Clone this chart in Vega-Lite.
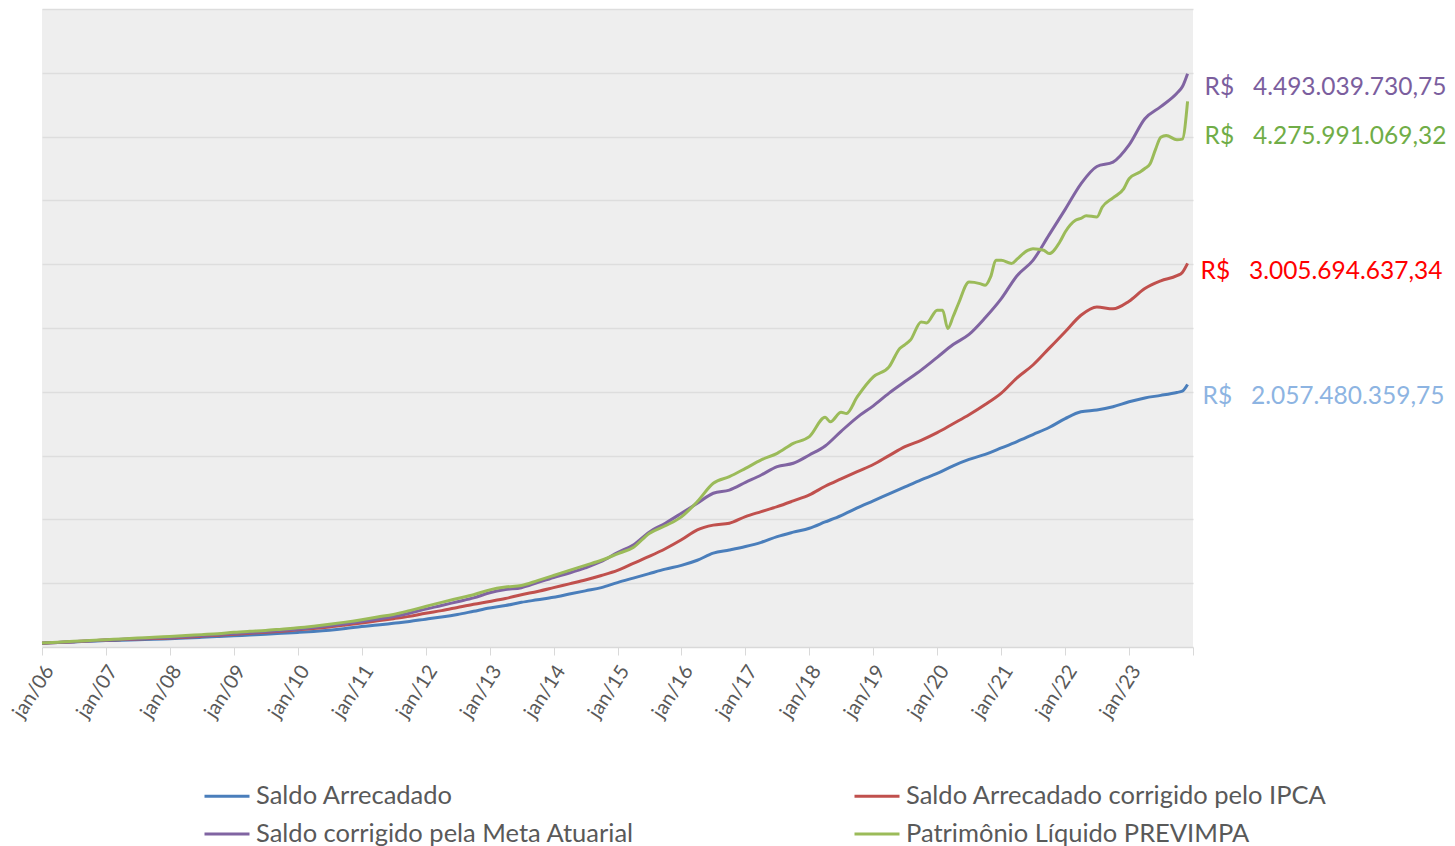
{
  "$schema": "https://vega.github.io/schema/vega-lite/v6.json",
  "width": 1151,
  "height": 638,
  "autosize": {"type": "none"},
  "padding": {"left": 42, "top": 9, "right": 262, "bottom": 199},
  "background": "white",
  "config": {"view": {"fill": "#eeeeee", "stroke": null}, "font": "Lato"},
  "datasets": {
    "series": [
      {"mes": "2006-01", "Saldo Arrecadado": 0.030, "Saldo Arrecadado corrigido pelo IPCA": 0.030, "Saldo corrigido pela Meta Atuarial": 0.030, "Patrimônio Líquido PREVIMPA": 0.032},
      {"mes": "2006-04", "Saldo Arrecadado": 0.035, "Saldo Arrecadado corrigido pelo IPCA": 0.036, "Saldo corrigido pela Meta Atuarial": 0.036, "Patrimônio Líquido PREVIMPA": 0.038},
      {"mes": "2006-07", "Saldo Arrecadado": 0.040, "Saldo Arrecadado corrigido pelo IPCA": 0.042, "Saldo corrigido pela Meta Atuarial": 0.042, "Patrimônio Líquido PREVIMPA": 0.045},
      {"mes": "2006-10", "Saldo Arrecadado": 0.045, "Saldo Arrecadado corrigido pelo IPCA": 0.048, "Saldo corrigido pela Meta Atuarial": 0.048, "Patrimônio Líquido PREVIMPA": 0.050},
      {"mes": "2007-01", "Saldo Arrecadado": 0.050, "Saldo Arrecadado corrigido pelo IPCA": 0.054, "Saldo corrigido pela Meta Atuarial": 0.055, "Patrimônio Líquido PREVIMPA": 0.057},
      {"mes": "2007-04", "Saldo Arrecadado": 0.053, "Saldo Arrecadado corrigido pelo IPCA": 0.058, "Saldo corrigido pela Meta Atuarial": 0.060, "Patrimônio Líquido PREVIMPA": 0.063},
      {"mes": "2007-07", "Saldo Arrecadado": 0.057, "Saldo Arrecadado corrigido pelo IPCA": 0.062, "Saldo corrigido pela Meta Atuarial": 0.065, "Patrimônio Líquido PREVIMPA": 0.070},
      {"mes": "2007-10", "Saldo Arrecadado": 0.060, "Saldo Arrecadado corrigido pelo IPCA": 0.066, "Saldo corrigido pela Meta Atuarial": 0.070, "Patrimônio Líquido PREVIMPA": 0.076},
      {"mes": "2008-01", "Saldo Arrecadado": 0.065, "Saldo Arrecadado corrigido pelo IPCA": 0.070, "Saldo corrigido pela Meta Atuarial": 0.075, "Patrimônio Líquido PREVIMPA": 0.083},
      {"mes": "2008-04", "Saldo Arrecadado": 0.070, "Saldo Arrecadado corrigido pelo IPCA": 0.077, "Saldo corrigido pela Meta Atuarial": 0.082, "Patrimônio Líquido PREVIMPA": 0.090},
      {"mes": "2008-07", "Saldo Arrecadado": 0.076, "Saldo Arrecadado corrigido pelo IPCA": 0.085, "Saldo corrigido pela Meta Atuarial": 0.090, "Patrimônio Líquido PREVIMPA": 0.097},
      {"mes": "2008-10", "Saldo Arrecadado": 0.082, "Saldo Arrecadado corrigido pelo IPCA": 0.093, "Saldo corrigido pela Meta Atuarial": 0.097, "Patrimônio Líquido PREVIMPA": 0.104},
      {"mes": "2009-01", "Saldo Arrecadado": 0.088, "Saldo Arrecadado corrigido pelo IPCA": 0.100, "Saldo corrigido pela Meta Atuarial": 0.105, "Patrimônio Líquido PREVIMPA": 0.115},
      {"mes": "2009-04", "Saldo Arrecadado": 0.094, "Saldo Arrecadado corrigido pelo IPCA": 0.108, "Saldo corrigido pela Meta Atuarial": 0.113, "Patrimônio Líquido PREVIMPA": 0.123},
      {"mes": "2009-07", "Saldo Arrecadado": 0.100, "Saldo Arrecadado corrigido pelo IPCA": 0.115, "Saldo corrigido pela Meta Atuarial": 0.121, "Patrimônio Líquido PREVIMPA": 0.130},
      {"mes": "2009-10", "Saldo Arrecadado": 0.107, "Saldo Arrecadado corrigido pelo IPCA": 0.124, "Saldo corrigido pela Meta Atuarial": 0.130, "Patrimônio Líquido PREVIMPA": 0.140},
      {"mes": "2010-01", "Saldo Arrecadado": 0.114, "Saldo Arrecadado corrigido pelo IPCA": 0.135, "Saldo corrigido pela Meta Atuarial": 0.140, "Patrimônio Líquido PREVIMPA": 0.150},
      {"mes": "2010-04", "Saldo Arrecadado": 0.122, "Saldo Arrecadado corrigido pelo IPCA": 0.145, "Saldo corrigido pela Meta Atuarial": 0.152, "Patrimônio Líquido PREVIMPA": 0.163},
      {"mes": "2010-07", "Saldo Arrecadado": 0.132, "Saldo Arrecadado corrigido pelo IPCA": 0.157, "Saldo corrigido pela Meta Atuarial": 0.166, "Patrimônio Líquido PREVIMPA": 0.178},
      {"mes": "2010-10", "Saldo Arrecadado": 0.145, "Saldo Arrecadado corrigido pelo IPCA": 0.172, "Saldo corrigido pela Meta Atuarial": 0.182, "Patrimônio Líquido PREVIMPA": 0.195},
      {"mes": "2011-01", "Saldo Arrecadado": 0.160, "Saldo Arrecadado corrigido pelo IPCA": 0.188, "Saldo corrigido pela Meta Atuarial": 0.200, "Patrimônio Líquido PREVIMPA": 0.214},
      {"mes": "2011-04", "Saldo Arrecadado": 0.172, "Saldo Arrecadado corrigido pelo IPCA": 0.205, "Saldo corrigido pela Meta Atuarial": 0.218, "Patrimônio Líquido PREVIMPA": 0.235},
      {"mes": "2011-07", "Saldo Arrecadado": 0.186, "Saldo Arrecadado corrigido pelo IPCA": 0.222, "Saldo corrigido pela Meta Atuarial": 0.238, "Patrimônio Líquido PREVIMPA": 0.255},
      {"mes": "2011-10", "Saldo Arrecadado": 0.200, "Saldo Arrecadado corrigido pelo IPCA": 0.240, "Saldo corrigido pela Meta Atuarial": 0.265, "Patrimônio Líquido PREVIMPA": 0.285},
      {"mes": "2012-01", "Saldo Arrecadado": 0.218, "Saldo Arrecadado corrigido pelo IPCA": 0.265, "Saldo corrigido pela Meta Atuarial": 0.297, "Patrimônio Líquido PREVIMPA": 0.318},
      {"mes": "2012-04", "Saldo Arrecadado": 0.235, "Saldo Arrecadado corrigido pelo IPCA": 0.285, "Saldo corrigido pela Meta Atuarial": 0.325, "Patrimônio Líquido PREVIMPA": 0.350},
      {"mes": "2012-07", "Saldo Arrecadado": 0.255, "Saldo Arrecadado corrigido pelo IPCA": 0.310, "Saldo corrigido pela Meta Atuarial": 0.355, "Patrimônio Líquido PREVIMPA": 0.380},
      {"mes": "2012-10", "Saldo Arrecadado": 0.280, "Saldo Arrecadado corrigido pelo IPCA": 0.335, "Saldo corrigido pela Meta Atuarial": 0.385, "Patrimônio Líquido PREVIMPA": 0.410},
      {"mes": "2013-01", "Saldo Arrecadado": 0.305, "Saldo Arrecadado corrigido pelo IPCA": 0.357, "Saldo corrigido pela Meta Atuarial": 0.425, "Patrimônio Líquido PREVIMPA": 0.448},
      {"mes": "2013-04", "Saldo Arrecadado": 0.325, "Saldo Arrecadado corrigido pelo IPCA": 0.380, "Saldo corrigido pela Meta Atuarial": 0.450, "Patrimônio Líquido PREVIMPA": 0.470},
      {"mes": "2013-07", "Saldo Arrecadado": 0.350, "Saldo Arrecadado corrigido pelo IPCA": 0.410, "Saldo corrigido pela Meta Atuarial": 0.465, "Patrimônio Líquido PREVIMPA": 0.482},
      {"mes": "2013-10", "Saldo Arrecadado": 0.370, "Saldo Arrecadado corrigido pelo IPCA": 0.435, "Saldo corrigido pela Meta Atuarial": 0.505, "Patrimônio Líquido PREVIMPA": 0.520},
      {"mes": "2014-01", "Saldo Arrecadado": 0.390, "Saldo Arrecadado corrigido pelo IPCA": 0.465, "Saldo corrigido pela Meta Atuarial": 0.545, "Patrimônio Líquido PREVIMPA": 0.560},
      {"mes": "2014-04", "Saldo Arrecadado": 0.415, "Saldo Arrecadado corrigido pelo IPCA": 0.495, "Saldo corrigido pela Meta Atuarial": 0.580, "Patrimônio Líquido PREVIMPA": 0.600},
      {"mes": "2014-07", "Saldo Arrecadado": 0.440, "Saldo Arrecadado corrigido pelo IPCA": 0.525, "Saldo corrigido pela Meta Atuarial": 0.620, "Patrimônio Líquido PREVIMPA": 0.640},
      {"mes": "2014-10", "Saldo Arrecadado": 0.465, "Saldo Arrecadado corrigido pelo IPCA": 0.560, "Saldo corrigido pela Meta Atuarial": 0.670, "Patrimônio Líquido PREVIMPA": 0.680},
      {"mes": "2015-01", "Saldo Arrecadado": 0.505, "Saldo Arrecadado corrigido pelo IPCA": 0.600, "Saldo corrigido pela Meta Atuarial": 0.740, "Patrimônio Líquido PREVIMPA": 0.730},
      {"mes": "2015-04", "Saldo Arrecadado": 0.540, "Saldo Arrecadado corrigido pelo IPCA": 0.655, "Saldo corrigido pela Meta Atuarial": 0.800, "Patrimônio Líquido PREVIMPA": 0.780},
      {"mes": "2015-07", "Saldo Arrecadado": 0.575, "Saldo Arrecadado corrigido pelo IPCA": 0.710, "Saldo corrigido pela Meta Atuarial": 0.900, "Patrimônio Líquido PREVIMPA": 0.890},
      {"mes": "2015-10", "Saldo Arrecadado": 0.610, "Saldo Arrecadado corrigido pelo IPCA": 0.770, "Saldo corrigido pela Meta Atuarial": 0.970, "Patrimônio Líquido PREVIMPA": 0.950},
      {"mes": "2016-01", "Saldo Arrecadado": 0.640, "Saldo Arrecadado corrigido pelo IPCA": 0.840, "Saldo corrigido pela Meta Atuarial": 1.048, "Patrimônio Líquido PREVIMPA": 1.020},
      {"mes": "2016-04", "Saldo Arrecadado": 0.680, "Saldo Arrecadado corrigido pelo IPCA": 0.918, "Saldo corrigido pela Meta Atuarial": 1.127, "Patrimônio Líquido PREVIMPA": 1.140},
      {"mes": "2016-07", "Saldo Arrecadado": 0.736, "Saldo Arrecadado corrigido pelo IPCA": 0.955, "Saldo corrigido pela Meta Atuarial": 1.205, "Patrimônio Líquido PREVIMPA": 1.283},
      {"mes": "2016-10", "Saldo Arrecadado": 0.760, "Saldo Arrecadado corrigido pelo IPCA": 0.970, "Saldo corrigido pela Meta Atuarial": 1.230, "Patrimônio Líquido PREVIMPA": 1.335},
      {"mes": "2017-01", "Saldo Arrecadado": 0.787, "Saldo Arrecadado corrigido pelo IPCA": 1.022, "Saldo corrigido pela Meta Atuarial": 1.290, "Patrimônio Líquido PREVIMPA": 1.400},
      {"mes": "2017-04", "Saldo Arrecadado": 0.820, "Saldo Arrecadado corrigido pelo IPCA": 1.061, "Saldo corrigido pela Meta Atuarial": 1.348, "Patrimônio Líquido PREVIMPA": 1.466},
      {"mes": "2017-07", "Saldo Arrecadado": 0.865, "Saldo Arrecadado corrigido pelo IPCA": 1.100, "Saldo corrigido pela Meta Atuarial": 1.413, "Patrimônio Líquido PREVIMPA": 1.518},
      {"mes": "2017-10", "Saldo Arrecadado": 0.900, "Saldo Arrecadado corrigido pelo IPCA": 1.145, "Saldo corrigido pela Meta Atuarial": 1.440, "Patrimônio Líquido PREVIMPA": 1.596},
      {"mes": "2018-01", "Saldo Arrecadado": 0.931, "Saldo Arrecadado corrigido pelo IPCA": 1.192, "Saldo corrigido pela Meta Atuarial": 1.505, "Patrimônio Líquido PREVIMPA": 1.648},
      {"mes": "2018-04", "Saldo Arrecadado": 0.980, "Saldo Arrecadado corrigido pelo IPCA": 1.260, "Saldo corrigido pela Meta Atuarial": 1.575, "Patrimônio Líquido PREVIMPA": 1.800},
      {"mes": "2018-05", "Patrimônio Líquido PREVIMPA": 1.765},
      {"mes": "2018-07", "Saldo Arrecadado": 1.030, "Saldo Arrecadado corrigido pelo IPCA": 1.318, "Saldo corrigido pela Meta Atuarial": 1.690, "Patrimônio Líquido PREVIMPA": 1.840},
      {"mes": "2018-08", "Patrimônio Líquido PREVIMPA": 1.830},
      {"mes": "2018-10", "Saldo Arrecadado": 1.090, "Saldo Arrecadado corrigido pelo IPCA": 1.375, "Saldo corrigido pela Meta Atuarial": 1.800, "Patrimônio Líquido PREVIMPA": 1.960},
      {"mes": "2019-01", "Saldo Arrecadado": 1.145, "Saldo Arrecadado corrigido pelo IPCA": 1.430, "Saldo corrigido pela Meta Atuarial": 1.890, "Patrimônio Líquido PREVIMPA": 2.117},
      {"mes": "2019-04", "Saldo Arrecadado": 1.200, "Saldo Arrecadado corrigido pelo IPCA": 1.500, "Saldo corrigido pela Meta Atuarial": 1.990, "Patrimônio Líquido PREVIMPA": 2.195},
      {"mes": "2019-06", "Patrimônio Líquido PREVIMPA": 2.340},
      {"mes": "2019-07", "Saldo Arrecadado": 1.255, "Saldo Arrecadado corrigido pelo IPCA": 1.570, "Saldo corrigido pela Meta Atuarial": 2.080, "Patrimônio Líquido PREVIMPA": 2.370},
      {"mes": "2019-08", "Patrimônio Líquido PREVIMPA": 2.405},
      {"mes": "2019-10", "Saldo Arrecadado": 1.310, "Saldo Arrecadado corrigido pelo IPCA": 1.620, "Saldo corrigido pela Meta Atuarial": 2.170, "Patrimônio Líquido PREVIMPA": 2.548},
      {"mes": "2019-11", "Patrimônio Líquido PREVIMPA": 2.540},
      {"mes": "2020-01", "Saldo Arrecadado": 1.360, "Saldo Arrecadado corrigido pelo IPCA": 1.680, "Saldo corrigido pela Meta Atuarial": 2.270, "Patrimônio Líquido PREVIMPA": 2.640},
      {"mes": "2020-02", "Patrimônio Líquido PREVIMPA": 2.640},
      {"mes": "2020-03", "Patrimônio Líquido PREVIMPA": 2.496},
      {"mes": "2020-04", "Saldo Arrecadado": 1.420, "Saldo Arrecadado corrigido pelo IPCA": 1.750, "Saldo corrigido pela Meta Atuarial": 2.370, "Patrimônio Líquido PREVIMPA": 2.590},
      {"mes": "2020-05", "Patrimônio Líquido PREVIMPA": 2.690},
      {"mes": "2020-07", "Saldo Arrecadado": 1.470, "Saldo Arrecadado corrigido pelo IPCA": 1.820, "Saldo corrigido pela Meta Atuarial": 2.450, "Patrimônio Líquido PREVIMPA": 2.860},
      {"mes": "2020-09", "Patrimônio Líquido PREVIMPA": 2.848},
      {"mes": "2020-10", "Saldo Arrecadado": 1.510, "Saldo Arrecadado corrigido pelo IPCA": 1.900, "Saldo corrigido pela Meta Atuarial": 2.580, "Patrimônio Líquido PREVIMPA": 2.835},
      {"mes": "2020-11", "Patrimônio Líquido PREVIMPA": 2.900},
      {"mes": "2020-12", "Patrimônio Líquido PREVIMPA": 3.030},
      {"mes": "2021-01", "Saldo Arrecadado": 1.560, "Saldo Arrecadado corrigido pelo IPCA": 1.990, "Saldo corrigido pela Meta Atuarial": 2.730, "Patrimônio Líquido PREVIMPA": 3.030},
      {"mes": "2021-03", "Patrimônio Líquido PREVIMPA": 3.005},
      {"mes": "2021-04", "Saldo Arrecadado": 1.610, "Saldo Arrecadado corrigido pelo IPCA": 2.110, "Saldo corrigido pela Meta Atuarial": 2.910, "Patrimônio Líquido PREVIMPA": 3.040},
      {"mes": "2021-06", "Patrimônio Líquido PREVIMPA": 3.109},
      {"mes": "2021-07", "Saldo Arrecadado": 1.665, "Saldo Arrecadado corrigido pelo IPCA": 2.210, "Saldo corrigido pela Meta Atuarial": 3.030, "Patrimônio Líquido PREVIMPA": 3.122},
      {"mes": "2021-09", "Patrimônio Líquido PREVIMPA": 3.109},
      {"mes": "2021-10", "Saldo Arrecadado": 1.720, "Saldo Arrecadado corrigido pelo IPCA": 2.340, "Saldo corrigido pela Meta Atuarial": 3.230, "Patrimônio Líquido PREVIMPA": 3.083},
      {"mes": "2021-12", "Patrimônio Líquido PREVIMPA": 3.174},
      {"mes": "2022-01", "Saldo Arrecadado": 1.790, "Saldo Arrecadado corrigido pelo IPCA": 2.470, "Saldo corrigido pela Meta Atuarial": 3.430, "Patrimônio Líquido PREVIMPA": 3.252},
      {"mes": "2022-03", "Patrimônio Líquido PREVIMPA": 3.344},
      {"mes": "2022-04", "Saldo Arrecadado": 1.843, "Saldo Arrecadado corrigido pelo IPCA": 2.600, "Saldo corrigido pela Meta Atuarial": 3.630, "Patrimônio Líquido PREVIMPA": 3.360},
      {"mes": "2022-05", "Patrimônio Líquido PREVIMPA": 3.380},
      {"mes": "2022-07", "Saldo Arrecadado": 1.857, "Saldo Arrecadado corrigido pelo IPCA": 2.665, "Saldo corrigido pela Meta Atuarial": 3.766, "Patrimônio Líquido PREVIMPA": 3.370},
      {"mes": "2022-08", "Patrimônio Líquido PREVIMPA": 3.448},
      {"mes": "2022-10", "Saldo Arrecadado": 1.883, "Saldo Arrecadado corrigido pelo IPCA": 2.650, "Saldo corrigido pela Meta Atuarial": 3.800, "Patrimônio Líquido PREVIMPA": 3.520},
      {"mes": "2022-12", "Patrimônio Líquido PREVIMPA": 3.590},
      {"mes": "2023-01", "Saldo Arrecadado": 1.922, "Saldo Arrecadado corrigido pelo IPCA": 2.710, "Saldo corrigido pela Meta Atuarial": 3.935, "Patrimônio Líquido PREVIMPA": 3.670},
      {"mes": "2023-03", "Patrimônio Líquido PREVIMPA": 3.720},
      {"mes": "2023-04", "Saldo Arrecadado": 1.952, "Saldo Arrecadado corrigido pelo IPCA": 2.810, "Saldo corrigido pela Meta Atuarial": 4.140, "Patrimônio Líquido PREVIMPA": 3.750},
      {"mes": "2023-05", "Patrimônio Líquido PREVIMPA": 3.787},
      {"mes": "2023-06", "Patrimônio Líquido PREVIMPA": 3.900},
      {"mes": "2023-07", "Saldo Arrecadado": 1.972, "Saldo Arrecadado corrigido pelo IPCA": 2.870, "Saldo corrigido pela Meta Atuarial": 4.235, "Patrimônio Líquido PREVIMPA": 3.995},
      {"mes": "2023-08", "Patrimônio Líquido PREVIMPA": 4.009},
      {"mes": "2023-10", "Saldo Arrecadado": 1.995, "Saldo Arrecadado corrigido pelo IPCA": 2.910, "Saldo corrigido pela Meta Atuarial": 4.340, "Patrimônio Líquido PREVIMPA": 3.975},
      {"mes": "2023-11", "Saldo Arrecadado": 2.005, "Saldo Arrecadado corrigido pelo IPCA": 2.935, "Saldo corrigido pela Meta Atuarial": 4.390, "Patrimônio Líquido PREVIMPA": 3.980},
      {"mes": "2023-12", "Saldo Arrecadado": 2.057, "Saldo Arrecadado corrigido pelo IPCA": 3.006, "Saldo corrigido pela Meta Atuarial": 4.493, "Patrimônio Líquido PREVIMPA": 4.276}
    ],
    "rotulos": [
      {"serie": "Saldo corrigido pela Meta Atuarial", "mes": "2023-12", "valor": 4.493, "texto": "R$\u00a0\u00a0 4.493.039.730,75"},
      {"serie": "Patrimônio Líquido PREVIMPA", "mes": "2023-12", "valor": 4.276, "texto": "R$\u00a0\u00a0 4.275.991.069,32"},
      {"serie": "Saldo Arrecadado corrigido pelo IPCA", "mes": "2023-12", "valor": 3.006, "texto": "R$\u00a0\u00a0 3.005.694.637,34"},
      {"serie": "Saldo Arrecadado", "mes": "2023-12", "valor": 2.057, "texto": "R$\u00a0\u00a0 2.057.480.359,75"}
    ]
  },
  "encoding": {
    "x": {
      "field": "mes",
      "type": "temporal",
      "scale": {
        "type": "utc",
        "domain": [{"year": 2006, "month": 1, "date": 1, "utc": true}, {"year": 2024, "month": 1, "date": 1, "utc": true}]
      },
      "axis": {
        "title": null,
        "tickCount": {"interval": "year", "step": 1},
        "labelExpr": "utcyear(datum.value) > 2023 ? '' : lower(utcFormat(datum.value, '%b/%y'))",
        "labelAngle": -57,
        "labelAlign": "right",
        "labelBaseline": "middle",
        "labelFontSize": 20,
        "labelColor": "#595959",
        "labelFont": "Lato",
        "labelPadding": 12,
        "labelOffset": 7,
        "labelOverlap": false,
        "labelFlush": false,
        "labelBound": false,
        "tickSize": 8,
        "tickColor": "#d9d9d9",
        "domainColor": "#d9d9d9",
        "domainWidth": 1.5,
        "grid": false
      }
    },
    "y": {
      "field": "valor",
      "type": "quantitative",
      "scale": {"domain": [0, 5], "nice": false},
      "axis": {
        "title": null,
        "values": [0.5, 1, 1.5, 2, 2.5, 3, 3.5, 4, 4.5, 5],
        "labels": false,
        "ticks": false,
        "domain": false,
        "grid": true,
        "gridColor": "#dddddd",
        "gridWidth": 1.5
      }
    }
  },
  "layer": [
    {
      "data": {"name": "series"},
      "transform": [
        {"fold": ["Saldo Arrecadado", "Saldo Arrecadado corrigido pelo IPCA", "Saldo corrigido pela Meta Atuarial", "Patrimônio Líquido PREVIMPA"], "as": ["serie", "valor"]},
        {"filter": "isValid(datum.valor)"}
      ],
      "mark": {"type": "line", "strokeWidth": 3, "interpolate": "monotone"},
      "encoding": {
        "color": {
          "field": "serie",
          "type": "nominal",
          "scale": {
            "domain": ["Saldo Arrecadado", "Saldo Arrecadado corrigido pelo IPCA", "Saldo corrigido pela Meta Atuarial", "Patrimônio Líquido PREVIMPA"],
            "range": ["#4A7EBB", "#C0504D", "#8064A2", "#9BBB59"]
          },
          "legend": {
            "title": null,
            "orient": "none",
            "legendX": 161,
            "legendY": 763,
            "direction": "horizontal",
            "columns": 2,
            "columnPadding": 214,
            "rowPadding": -9,
            "symbolType": "stroke",
            "symbolSize": 2025,
            "symbolStrokeWidth": 3,
            "labelFontSize": 25.5,
            "labelFont": "Lato",
            "labelColor": "#595959",
            "labelOffset": 5,
            "labelLimit": 0
          }
        }
      }
    },
    {
      "data": {"name": "rotulos"},
      "transform": [{"filter": "datum.serie == 'Saldo corrigido pela Meta Atuarial'"}],
      "mark": {"type": "text", "align": "left", "baseline": "middle", "dx": 17, "dy": 14, "fontSize": 24.5, "font": "Lato", "color": "#7B5E9E"},
      "encoding": {"text": {"field": "texto"}}
    },
    {
      "data": {"name": "rotulos"},
      "transform": [{"filter": "datum.serie == 'Patrimônio Líquido PREVIMPA'"}],
      "mark": {"type": "text", "align": "left", "baseline": "middle", "dx": 17, "dy": 36, "fontSize": 24.5, "font": "Lato", "color": "#70AD47"},
      "encoding": {"text": {"field": "texto"}}
    },
    {
      "data": {"name": "rotulos"},
      "transform": [{"filter": "datum.serie == 'Saldo Arrecadado corrigido pelo IPCA'"}],
      "mark": {"type": "text", "align": "left", "baseline": "middle", "dx": 13, "dy": 9, "fontSize": 24.5, "font": "Lato", "color": "#FF0000"},
      "encoding": {"text": {"field": "texto"}}
    },
    {
      "data": {"name": "rotulos"},
      "transform": [{"filter": "datum.serie == 'Saldo Arrecadado'"}],
      "mark": {"type": "text", "align": "left", "baseline": "middle", "dx": 15, "dy": 12, "fontSize": 24.5, "font": "Lato", "color": "#8DB4E2"},
      "encoding": {"text": {"field": "texto"}}
    }
  ]
}
